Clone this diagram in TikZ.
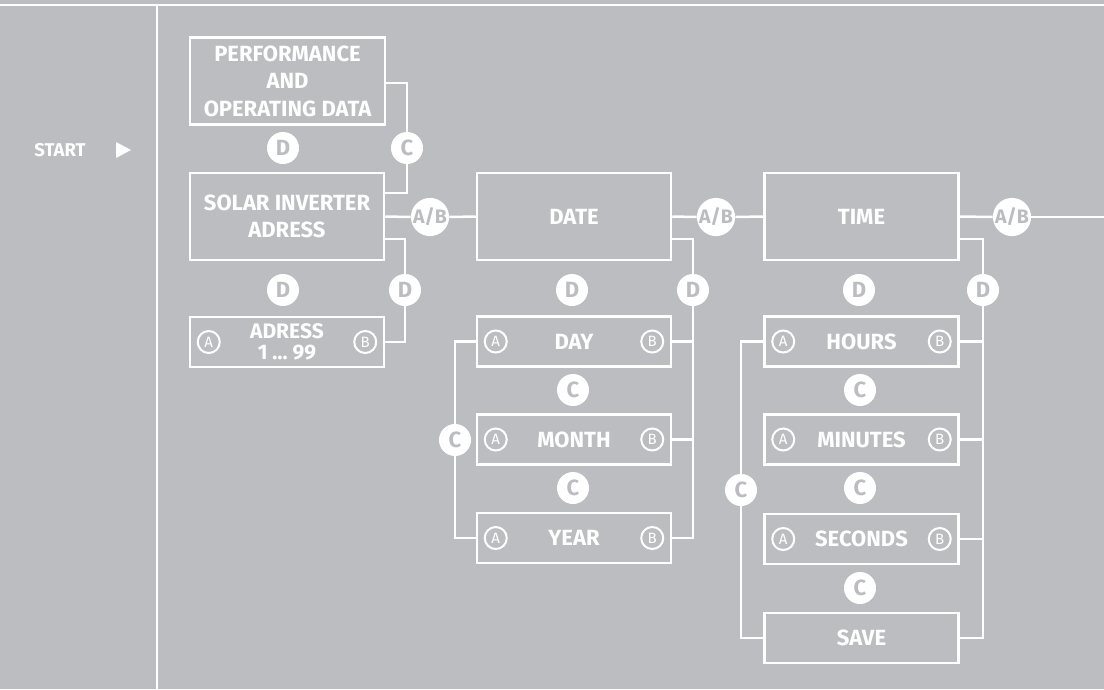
\documentclass[tikz,border=0pt]{standalone}
\usepackage{fontspec}
\setmainfont{Fira Sans}
\definecolor{bg}{RGB}{188,189,193}
\tikzset{
  box/.style={draw=white, line width=2.5pt, text=white, align=center, inner sep=0pt,
    minimum width=194pt, font=\bfseries\fontsize{22}{27.5}\selectfont},
  bigbox/.style={box, minimum height=87pt},
  smallbox/.style={box, minimum height=50pt},
  dot/.style={circle, fill=white, inner sep=0pt, minimum size=32pt, text=bg,
    font=\bfseries\fontsize{22}{22}\selectfont},
  abdot/.style={dot, font=\bfseries\fontsize{19.5}{20}\selectfont},
  ring/.style={circle, draw=white, line width=2pt, inner sep=0pt, minimum size=22pt,
    text=white, font=\fontsize{15}{15}\selectfont},
  wire/.style={draw=white, line width=2.5pt},
}
\begin{document}
\begin{tikzpicture}[x=1pt,y=-1pt]
\fill[bg] (0,0) rectangle (1104,689);
\useasboundingbox (0,0) rectangle (1104,689);
% frame lines
\draw[wire] (0,5) -- (1104,5);
\draw[wire] (157,5) -- (157,689);
% start
\node[text=white, font=\bfseries\fontsize{18.5}{20}\selectfont, inner sep=0pt] (start) at (60,150) {START};
\fill[white] (116,142) -- (131,150) -- (116,158) -- cycle;

% boxes
\node[bigbox, minimum width=195pt] (perf) at (287.5,81) {PERFORMANCE\\AND\\OPERATING DATA};
\node[bigbox] (solar) at (287,216.5) {SOLAR INVERTER\\ADRESS};
\node[smallbox, font=\bfseries\fontsize{21}{20.5}\selectfont] (adr) at (287,342) {ADRESS\\1 … 99};
\node[bigbox] (date) at (574,216.5) {DATE};
\node[bigbox] (time) at (861.5,216.5) {TIME};
\node[smallbox] (day) at (574,341.5) {DAY};
\node[smallbox] (month) at (574,439.5) {MONTH};
\node[smallbox] (year) at (574,538) {YEAR};
\node[smallbox] (hours) at (861.5,341.5) {HOURS};
\node[smallbox] (minutes) at (861.5,439.5) {MINUTES};
\node[smallbox] (seconds) at (861.5,539) {SECONDS};
\node[smallbox] (save) at (861.5,638) {SAVE};

% rings A/B
\foreach \n in {adr,day,month,year,hours,minutes,seconds}{
  \node[ring] (\n A) at ([xshift=20pt]\n.west) {A};
  \node[ring] (\n B) at ([xshift=-20pt]\n.east) {B};
}

% dots
\node[dot] (d1) at (283,148) {D};
\node[dot] (c1) at (407,148) {C};
\node[abdot] (ab1) at (430,217) {A/B};
\node[dot] (d2) at (283,290) {D};
\node[dot] (d3) at (405,290) {D};
\node[dot] (d4) at (572,290) {D};
\node[dot] (d5) at (693,290) {D};
\node[abdot] (ab2) at (716,217) {A/B};
\node[dot] (c2) at (573,390) {C};
\node[dot] (c3) at (573,488) {C};
\node[dot] (c4) at (455,440) {C};
\node[dot] (d6) at (859,290) {D};
\node[dot] (d7) at (983,290) {D};
\node[abdot] (ab3) at (1012,217) {A/B};
\node[dot] (c5) at (860,390) {C};
\node[dot] (c6) at (860,488) {C};
\node[dot] (c7) at (860,588) {C};
\node[dot] (c8) at (741,490) {C};
\coordinate (endr) at (1104,217);

% connectors
\draw[wire] ([yshift=-2pt]perf.east) -| (c1.north);
\draw[wire] (c1.south) |- ([yshift=23.5pt]solar.east);
\draw[wire] (solar.east) -- (ab1.west);
\draw[wire] (ab1.east) -- (date.west);
\draw[wire] ([yshift=-22.5pt]solar.east) -| (d3.north);
\draw[wire] (d3.south) |- (adr.east);

\draw[wire] (date.east) -- (ab2.west);
\draw[wire] (ab2.east) -- (time.west);
\draw[wire] ([yshift=-22.5pt]date.east) -| (d5.north);
\draw[wire] (d5.south) |- (year.east);
\draw[wire] (day.east) -- (day.east -| d5.south);
\draw[wire] (month.east) -- (month.east -| d5.south);
\draw[wire] (day.west) -| (c4.north);
\draw[wire] (c4.south) |- (year.west);

\draw[wire] (time.east) -- (ab3.west);
\draw[wire] (ab3.east) -- (endr);
\draw[wire] ([yshift=-22.5pt]time.east) -| (d7.north);
\draw[wire] (d7.south) |- (save.east);
\draw[wire] (hours.east) -- (hours.east -| d7.south);
\draw[wire] (minutes.east) -- (minutes.east -| d7.south);
\draw[wire] (seconds.east) -- (seconds.east -| d7.south);
\draw[wire] (hours.west) -| (c8.north);
\draw[wire] (c8.south) |- (save.west);
\end{tikzpicture}
\end{document}
